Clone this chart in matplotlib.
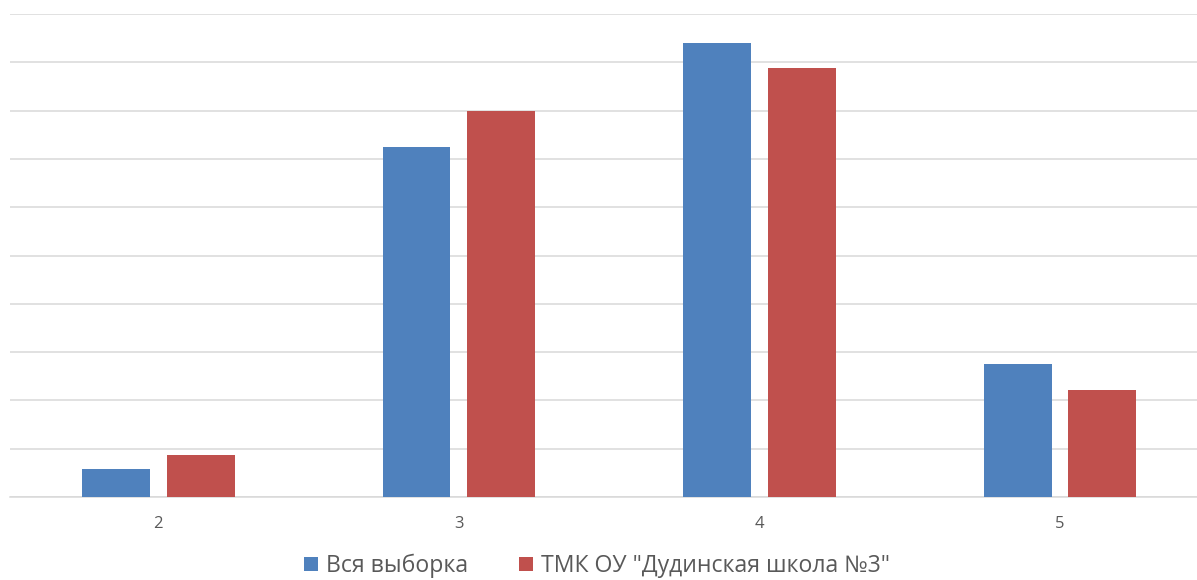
import numpy as np
import matplotlib.pyplot as plt

categories = ["2", "3", "4", "5"]
series_names = ["Вся выборка", 'ТМК ОУ "Дудинская школа №3"']
all_sample = [2.9, 36.2, 47.0, 13.8]
school = [4.3, 40.0, 44.4, 11.1]
colors = ["#4F81BD", "#C0504D"]

plt.rcParams['font.family'] = ['Open Sans', 'DejaVu Sans']

fig = plt.figure(figsize=(11.97, 5.80), dpi=100)
ax = fig.add_axes([10 / 1197, 83 / 580, 1187 / 1197, 483 / 580])

x = np.arange(len(categories))
w = 0.226
ax.bar(x - 0.14, all_sample, w, color=colors[0], label=series_names[0], zorder=3)
ax.bar(x + 0.142, school, w, color=colors[1], label=series_names[1], zorder=3)

ax.set_xlim(-0.4925, 3.457)
ax.set_ylim(0, 50)
ax.set_yticks(np.arange(0, 51, 5))
ax.yaxis.grid(True, color="#D9D9D9", linewidth=1.1, zorder=0)
ax.tick_params(axis="y", length=0, labelleft=False)
ax.set_xticks(x)
ax.set_xticklabels(categories, fontsize=12, color="#595959")
ax.tick_params(axis="x", length=0, pad=14)
for s in ["top", "right", "left"]:
    ax.spines[s].set_visible(False)
ax.spines["bottom"].set_color("#D9D9D9")
ax.spines["bottom"].set_linewidth(1.1)

fig.legend(loc="center", bbox_to_anchor=(597 / 1197, 1 - 566 / 580), ncol=2,
           frameon=False, fontsize=16.6, labelcolor="#595959",
           handlelength=0.6, handleheight=0.6, handletextpad=0.36, columnspacing=2.2)

fig.savefig("out.png", dpi=100)
